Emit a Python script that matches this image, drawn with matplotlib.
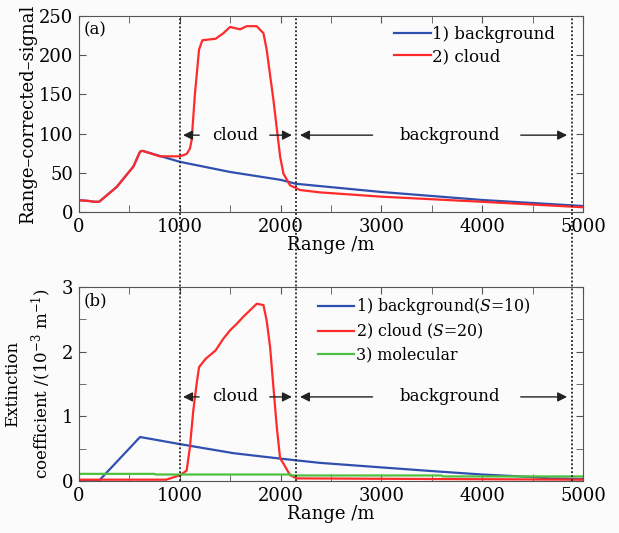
import numpy as np
import matplotlib
matplotlib.use('Agg')
import matplotlib.pyplot as plt
from matplotlib import transforms
from matplotlib.lines import Line2D

plt.rcParams['font.family'] = ['DejaVu Serif']
plt.rcParams['mathtext.fontset'] = 'dejavuserif'

# (a) range-corrected signal
a_bg_x = [0, 100, 150, 200, 375, 540, 606, 630, 1000, 1500, 2000, 2150, 3000, 4000, 5000]
a_bg_y = [15, 14, 13, 13, 32, 58, 77, 78, 64, 51, 41, 36, 25.5, 15.3, 7.6]
a_cl_x = [0, 100, 150, 200, 375, 540, 606, 630, 800, 1002, 1068, 1101, 1118, 1150, 1191, 1224,
          1356, 1432, 1499, 1598, 1664, 1763, 1830, 1862, 1929, 1995, 2028, 2094, 2193, 2391,
          3000, 4000, 5000]
a_cl_y = [15, 14, 13, 13, 32, 58, 77, 78, 71, 71, 74, 81, 92, 150, 207, 219,
          221, 228, 236, 233, 237, 237, 228, 207, 143, 71, 49, 34, 28, 25,
          19.5, 13, 6]

# (b) extinction coefficient
b_bg_x = [0, 196, 606, 1002, 1532, 1862, 2150, 2391, 3000, 3528, 4000, 4511, 4650, 5000]
b_bg_y = [0, 0, 0.68, 0.57, 0.43, 0.37, 0.32, 0.28, 0.21, 0.15, 0.10, 0.06, 0.04, 0.03]
b_cl_x = [0, 867, 1002, 1068, 1101, 1134, 1167, 1191, 1257, 1356, 1432, 1499, 1565, 1631,
          1697, 1763, 1830, 1862, 1896, 1929, 1962, 1995, 2028, 2094, 2160, 5000]
b_cl_y = [0.02, 0.02, 0.09, 0.16, 0.53, 1.09, 1.5, 1.76, 1.89, 2.02, 2.2, 2.33, 2.43, 2.54,
          2.64, 2.74, 2.72, 2.48, 2.07, 1.45, 0.84, 0.35, 0.27, 0.09, 0.04, 0.02]
b_mol_x = [0, 750, 760, 2100, 2110, 3600, 3610, 5000]
b_mol_y = [0.11, 0.11, 0.10, 0.10, 0.085, 0.085, 0.07, 0.07]

bounds = [1000, 2150, 4890]

blue = '#3050b0'
red = '#ff2a2a'
green = '#50c040'

fig = plt.figure(figsize=(6.19, 5.33), dpi=100)
fig.patch.set_facecolor('#fbfbfb')
ax1 = fig.add_axes([0.1276, 0.6023, 0.8142, 0.3677])
ax2 = fig.add_axes([0.1276, 0.0976, 0.8142, 0.3640])

ax1.plot(a_bg_x, a_bg_y, color=blue, lw=1.6, label='1) background')
ax1.plot(a_cl_x, a_cl_y, color=red, lw=1.6, label='2) cloud')
ax2.plot(b_bg_x, b_bg_y, color=blue, lw=1.6, label='1) background($S$=10)')
ax2.plot(b_cl_x, b_cl_y, color=red, lw=1.6, label='2) cloud ($S$=20)')
ax2.plot(b_mol_x, b_mol_y, color=green, lw=1.6, label='3) molecular')

ax1.set_ylim(0, 250)
ax1.set_yticks([0, 50, 100, 150, 200, 250])
ax2.set_ylim(0, 3)
ax2.set_yticks([0, 1, 2, 3])
ax2.set_yticks([0.5, 1.5, 2.5], minor=True)

for ax in (ax1, ax2):
    ax.set_facecolor('#fbfbfb')
    ax.set_xlim(0, 5000)
    ax.set_xticks([0, 1000, 2000, 3000, 4000, 5000])
    ax.set_xticks([500, 1500, 2500, 3500, 4500], minor=True)
    ax.tick_params(direction='in', which='both', top=True, right=True, labelsize=13,
                   color='#555555', pad=4)
    ax.tick_params(which='major', length=5)
    ax.tick_params(which='minor', length=5)
    for s in ax.spines.values():
        s.set_color('#555555')
    ax.set_xlabel('Range /m', fontsize=13, labelpad=0)

ax1.set_ylabel('Range\u2013corrected\u2013signal', fontsize=13)
ax1.yaxis.set_label_coords(-0.083, 0.5)
ax2.set_ylabel('Extinction\ncoefficient /(10$^{-3}$ m$^{-1}$)', fontsize=12, linespacing=1.45)
ax2.yaxis.set_label_coords(-0.052, 0.5)

ax1.text(0.01, 0.97, '(a)', transform=ax1.transAxes, fontsize=12, va='top', ha='left')
ax2.text(0.01, 0.97, '(b)', transform=ax2.transAxes, fontsize=12, va='top', ha='left')

ax1.legend(loc='upper right', bbox_to_anchor=(0.965, 1.0), frameon=False, fontsize=12,
           handlelength=2.2, handletextpad=0.1, labelspacing=0.3, borderaxespad=0.2)
ax2.legend(loc='upper left', bbox_to_anchor=(0.455, 1.0), frameon=False, fontsize=11.4,
           handlelength=2.3, handletextpad=0.1, labelspacing=0.3, borderaxespad=0.2)

# dotted boundaries across both panels
tr = transforms.blended_transform_factory(ax1.transData, fig.transFigure)
for b in bounds:
    fig.add_artist(Line2D([b, b], [0.0976, 0.970], transform=tr, color='#222222',
                          lw=1.3, ls=(0, (1, 1.2))))

ap = dict(arrowstyle='-|>', color='#222222', lw=1.0, mutation_scale=14)
for ax, yv in ((ax1, 98), (ax2, 1.3)):
    ax.annotate('', xy=(1005, yv), xytext=(1220, yv), arrowprops=ap)
    ax.annotate('', xy=(2140, yv), xytext=(1865, yv), arrowprops=ap)
    ax.text(1545, yv, 'cloud', fontsize=12, ha='center', va='center')
    ax.annotate('', xy=(2165, yv), xytext=(2940, yv), arrowprops=ap)
    ax.annotate('', xy=(4870, yv), xytext=(4355, yv), arrowprops=ap)
    ax.text(3680, yv, 'background', fontsize=12, ha='center', va='center')

fig.savefig('out.png', dpi=100, facecolor=fig.get_facecolor())
